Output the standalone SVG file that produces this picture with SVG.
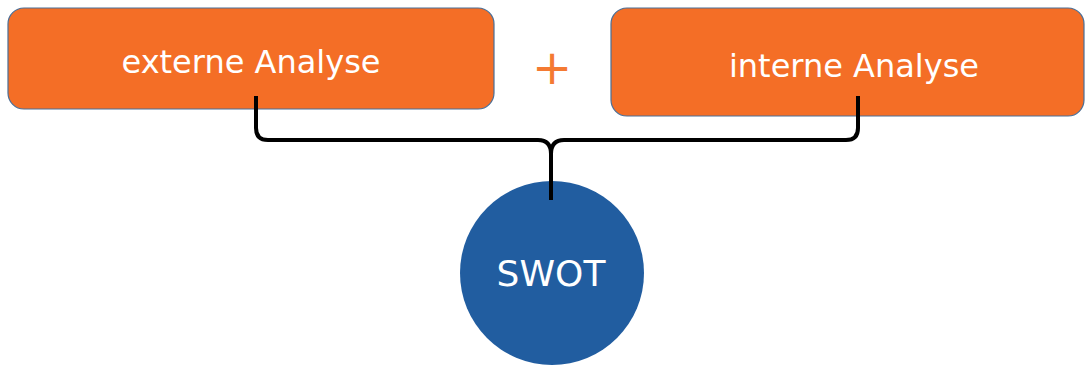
<svg xmlns="http://www.w3.org/2000/svg" width="1085" height="365" viewBox="0 0 1085 365">
  <style>
    .box { fill: #F46E26; stroke: #4A6E96; stroke-width: 1.2; }
    .lbl { font-family: "DejaVu Sans", Verdana, sans-serif; fill: #FFFFFF; text-anchor: middle; }
    .brace { fill: none; stroke: #000000; stroke-width: 4; stroke-linejoin: round; stroke-linecap: butt; }
  </style>
  <rect width="1085" height="365" fill="#FFFFFF"/>
  <g id="node-externe">
    <rect class="box" x="8" y="8" width="486" height="101" rx="16"/>
    <text class="lbl" x="251" y="73" font-size="32">externe Analyse</text>
  </g>
  <g id="node-plus">
    <text x="552" y="84" font-family="DejaVu Sans, sans-serif" font-size="48" fill="#F47A32" text-anchor="middle">+</text>
  </g>
  <g id="node-interne">
    <rect class="box" x="611" y="8" width="473" height="108" rx="16"/>
    <text class="lbl" x="854" y="77" font-size="32">interne Analyse</text>
  </g>
  <g id="node-swot">
    <circle cx="552" cy="273" r="92" fill="#215DA0"/>
    <text class="lbl" x="551" y="286" font-size="36">SWOT</text>
  </g>
  <g id="connectors">
    <path class="brace" d="M256,96 L256,128 Q256,140 268,140 L538,140 Q551,140 551,154 L551,200 M551,154 Q551,140 564,140 L846,140 Q858,140 858,128 L858,96"/>
  </g>
</svg>
